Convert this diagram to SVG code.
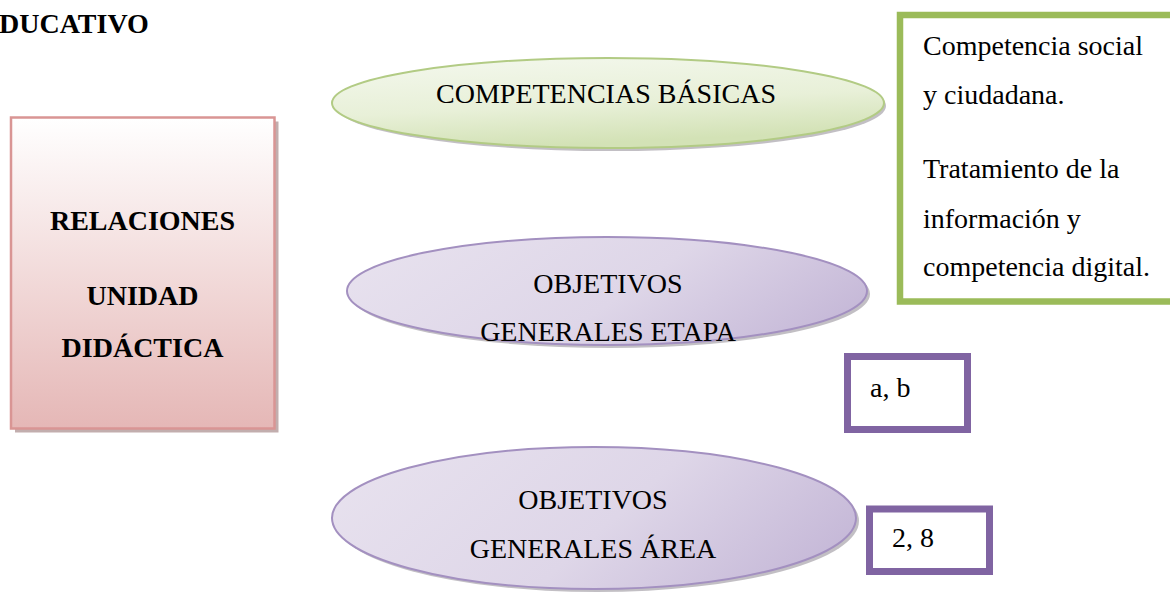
<svg xmlns="http://www.w3.org/2000/svg" width="1170" height="594" viewBox="0 0 1170 594">
<style>
  .serif { font-family: "Liberation Serif", "Times New Roman", serif; fill: #000; }
  .bold { font-weight: bold; font-size: 28px; }
  .reg { font-size: 28px; }
  .mid { text-anchor: middle; }
  .shadow { fill: #8f8a94; opacity: 0.55; }
  .pell { fill: url(#gPurple); stroke: #a390c0; stroke-width: 2; }
  .pbox { fill: #fff; stroke: #8064a2; stroke-width: 7; }
</style>
<defs>
  <linearGradient id="gPink" x1="0" y1="0" x2="0" y2="1">
    <stop offset="0" stop-color="#ffffff"/>
    <stop offset="1" stop-color="#e5b7b6"/>
  </linearGradient>
  <linearGradient id="gGreen" x1="0" y1="0" x2="0.3" y2="1">
    <stop offset="0" stop-color="#f4f8ee"/>
    <stop offset="0.6" stop-color="#e8f0d8"/>
    <stop offset="1" stop-color="#d3e2b6"/>
  </linearGradient>
  <linearGradient id="gPurple" x1="0" y1="0.3" x2="1" y2="0.6">
    <stop offset="0" stop-color="#e7e1ee"/>
    <stop offset="0.55" stop-color="#ded6e8"/>
    <stop offset="1" stop-color="#c6b9d8"/>
  </linearGradient>
</defs>

<text class="serif bold" x="-1" y="33">DUCATIVO</text>

<g id="relaciones">
  <rect x="15" y="121.5" width="263.5" height="311" fill="#b39a9a" opacity="0.8"/>
  <rect x="11" y="117.5" width="263.5" height="311" fill="url(#gPink)" stroke="#d99594" stroke-width="2.5"/>
  <text class="serif bold mid" x="142.5" y="230">RELACIONES</text>
  <text class="serif bold mid" x="142.5" y="305">UNIDAD</text>
  <text class="serif bold mid" x="142.5" y="357">DIDÁCTICA</text>
</g>

<g id="competencias">
  <ellipse class="shadow" cx="611" cy="106" rx="275" ry="45"/>
  <ellipse cx="608" cy="103" rx="276" ry="45" fill="url(#gGreen)" stroke="#b2cb84" stroke-width="2"/>
  <text class="serif reg mid" x="606" y="103">COMPETENCIAS BÁSICAS</text>
</g>

<g id="competencias-lista">
  <rect x="900" y="15" width="280" height="286.5" fill="#fff" stroke="#9bbb59" stroke-width="6.5"/>
  <text class="serif reg" x="923" y="55">Competencia social</text>
  <text class="serif reg" x="923" y="104">y ciudadana.</text>
  <text class="serif reg" x="923" y="178">Tratamiento de la</text>
  <text class="serif reg" x="923" y="228">información y</text>
  <text class="serif reg" x="923" y="276">competencia digital.</text>
</g>

<g id="objetivos-etapa">
  <ellipse class="shadow" cx="610" cy="294" rx="260" ry="54"/>
  <ellipse class="pell" cx="607" cy="291" rx="260" ry="54"/>
  <text class="serif reg mid" x="608" y="293">OBJETIVOS</text>
  <text class="serif reg mid" x="608" y="341">GENERALES ETAPA</text>
</g>

<g id="etapa-valores">
  <rect class="pbox" x="847.5" y="356.5" width="120" height="73"/>
  <text class="serif reg" x="870" y="397">a, b</text>
</g>

<g id="objetivos-area">
  <ellipse class="shadow" cx="597" cy="521" rx="262" ry="71"/>
  <ellipse class="pell" cx="594" cy="518" rx="262" ry="71"/>
  <text class="serif reg mid" x="593" y="509">OBJETIVOS</text>
  <text class="serif reg mid" x="593" y="558">GENERALES ÁREA</text>
</g>

<g id="area-valores">
  <rect class="pbox" x="869.5" y="509" width="120" height="62.5"/>
  <text class="serif reg" x="892" y="547">2, 8</text>
</g>

<g id="connectors"></g>
</svg>
